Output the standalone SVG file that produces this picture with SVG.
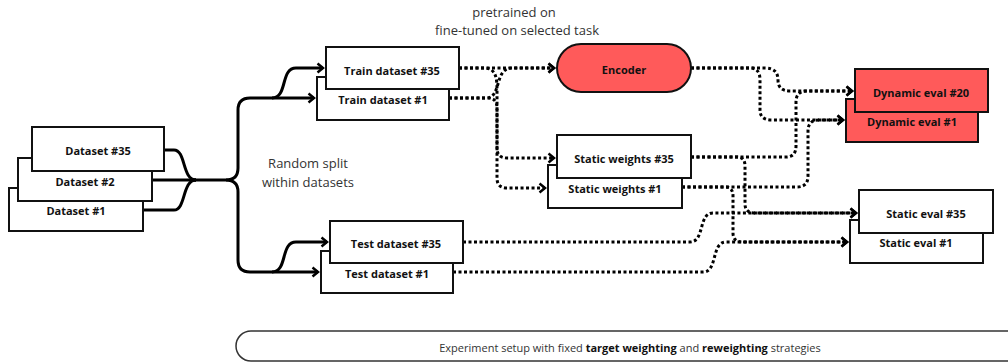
<svg xmlns="http://www.w3.org/2000/svg" width="1008" height="362" viewBox="0 0 1008 362">
<style>
.box{fill:#fff;stroke:#111;stroke-width:2}
.red{fill:#ff5a5a;stroke:#111;stroke-width:2}
.lbl{font-family:"Open Sans","Noto Sans",sans-serif;font-size:11px;font-weight:bold;fill:#111;text-anchor:middle;dominant-baseline:central}
.note{font-family:"Open Sans","Noto Sans",sans-serif;font-size:13px;fill:#333;text-anchor:middle}
.solid{fill:none;stroke:#000;stroke-width:3}
.dot{fill:none;stroke:#000;stroke-width:3;stroke-dasharray:3 2.5}
</style>
<defs>
<marker id="ah" markerWidth="10" markerHeight="12" refX="7" refY="6" orient="auto" markerUnits="userSpaceOnUse">
<path d="M1.5,1.5 L7,6 L1.5,10.5" fill="none" stroke="#000" stroke-width="2.5"/>
</marker>
</defs>
<g id="connectors">
<path class="solid" d="M164,150 H174 C186,150 182,180 196,180"/>
<path class="solid" d="M152,180 H196"/>
<path class="solid" d="M143,210 H174 C186,210 182,180 196,180"/>
<path class="solid" d="M190,180 H226 Q238,180 238,168 V110 Q238,98 250,98 H314" marker-end="url(#ah)"/>
<path class="solid" d="M226,180 Q238,180 238,192 V260 Q238,272 250,272 H318" marker-end="url(#ah)"/>
<path class="solid" d="M272,98 C288,98 280,68 296,68 H323" marker-end="url(#ah)"/>
<path class="solid" d="M272,272 C288,272 280,242 296,242 H327" marker-end="url(#ah)"/>
<path class="dot" d="M459,68 H554" marker-end="url(#ah)"/>
<path class="dot" d="M449,98 H486 C502,98 494,68 512,68 H554" marker-end="url(#ah)"/>
<path class="dot" d="M459,68 H484 C497,68 497,80 497,92 V148 Q497,158 507,158 H554" marker-end="url(#ah)"/>
<path class="dot" d="M449,98 H488 Q497,98 497,108 V178 Q497,188 507,188 H545" marker-end="url(#ah)"/>
<path class="dot" d="M691,68 H765 Q778,68 778,80 Q778,91 790,91 H852" marker-end="url(#ah)"/>
<path class="dot" d="M691,68 H750 Q760,68 760,80 V110 Q760,120 772,120 H843" marker-end="url(#ah)"/>
<path class="dot" d="M691,157 H786 Q796,157 796,146 V102 Q796,91 807,91 H852" marker-end="url(#ah)"/>
<path class="dot" d="M682,187 H797 Q808,187 808,176 V131 Q808,120 819,120 H843" marker-end="url(#ah)"/>
<path class="dot" d="M691,157 H737 Q745,157 745,166 V204 Q745,213 755,213 H856" marker-end="url(#ah)"/>
<path class="dot" d="M682,187 H725 Q733,187 733,196 V233 Q733,242 743,242 H847" marker-end="url(#ah)"/>
<path class="dot" d="M463,242 H690 C705,242 698,213 713,213 H856" marker-end="url(#ah)"/>
<path class="dot" d="M453,272 H703 C718,272 711,242 726,242 H847" marker-end="url(#ah)"/>
</g>
<g id="dataset1"><rect class="box" x="9" y="188" width="134" height="43"/><text class="lbl" x="76" y="210">Dataset #1</text></g>
<g id="dataset2"><rect class="box" x="18" y="158" width="134" height="43"/><text class="lbl" x="85" y="181">Dataset #2</text></g>
<g id="dataset35"><rect class="box" x="32" y="127" width="132" height="44"/><text class="lbl" x="98" y="150">Dataset #35</text></g>
<g id="split-label"><text class="note" x="308" y="168">Random split</text><text class="note" x="308" y="187">within datasets</text></g>
<g id="train1"><rect class="box" x="317" y="77" width="132" height="43"/><text class="lbl" x="383" y="99">Train dataset #1</text></g>
<g id="train35"><rect class="box" x="326" y="47" width="133" height="42"/><text class="lbl" x="392" y="70">Train dataset #35</text></g>
<g id="test1"><rect class="box" x="321" y="251" width="132" height="42"/><text class="lbl" x="387" y="273">Test dataset #1</text></g>
<g id="test35"><rect class="box" x="330" y="221" width="133" height="42"/><text class="lbl" x="396" y="243">Test dataset #35</text></g>
<g id="pretrain-label"><text class="note" x="514" y="17">pretrained on</text><text class="note" x="517" y="35">fine-tuned on selected task</text></g>
<g id="encoder"><rect class="red" x="557" y="44" width="134" height="48" rx="24"/><text class="lbl" x="624" y="69">Encoder</text></g>
<g id="sw1"><rect class="box" x="548" y="165" width="134" height="43"/><text class="lbl" x="615" y="188">Static weights #1</text></g>
<g id="sw35"><rect class="box" x="557" y="135" width="134" height="43"/><text class="lbl" x="624" y="158">Static weights #35</text></g>
<g id="dyn1"><rect class="red" x="846" y="99" width="132" height="43"/><text class="lbl" x="912" y="121">Dynamic eval #1</text></g>
<g id="dyn20"><rect class="red" x="855" y="69" width="133" height="43"/><text class="lbl" x="921" y="92">Dynamic eval #20</text></g>
<g id="se1"><rect class="box" x="850" y="220" width="133" height="43"/><text class="lbl" x="916" y="242">Static eval #1</text></g>
<g id="se35"><rect class="box" x="859" y="190" width="134" height="43"/><text class="lbl" x="926" y="213">Static eval #35</text></g>
<g id="footer"><rect x="236" y="331" width="800" height="30" rx="15" fill="#fff" stroke="#333" stroke-width="1.5"/><text x="630" y="352" font-family="'Open Sans','Noto Sans',sans-serif" font-size="11" fill="#333" text-anchor="middle">Experiment setup with fixed <tspan font-weight="bold" fill="#111">target weighting</tspan> and <tspan font-weight="bold" fill="#111">reweighting</tspan> strategies</text></g>
</svg>
